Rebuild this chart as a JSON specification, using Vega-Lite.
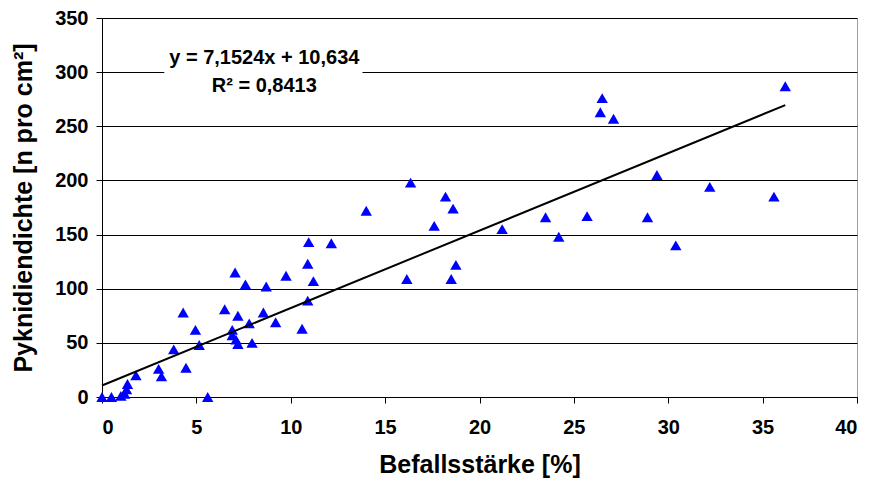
{
  "$schema": "https://vega.github.io/schema/vega-lite/v6.json",
  "width": 755,
  "height": 379,
  "autosize": {"type": "none"},
  "padding": {"left": 102, "top": 18, "right": 15, "bottom": 82},
  "background": "white",
  "config": {
    "view": {"stroke": "#a0a0a0", "strokeWidth": 1},
    "axis": {
      "domainColor": "black",
      "tickColor": "black",
      "gridColor": "black",
      "gridOpacity": 1,
      "gridWidth": 1,
      "tickSize": 6,
      "labelFont": "Liberation Sans",
      "labelFontWeight": "bold",
      "labelFontSize": 20,
      "labelColor": "black",
      "titleFont": "Liberation Sans",
      "titleFontWeight": "bold",
      "titleFontSize": 25,
      "titleColor": "black"
    }
  },
  "datasets": {
    "pts": [
      {"x": 0, "y": 0}, {"x": 0.5, "y": 0}, {"x": 1.0, "y": 1}, {"x": 1.2, "y": 3},
      {"x": 1.3, "y": 7}, {"x": 1.35, "y": 12}, {"x": 1.8, "y": 20}, {"x": 3.0, "y": 26},
      {"x": 3.15, "y": 19}, {"x": 3.8, "y": 44}, {"x": 4.45, "y": 27}, {"x": 4.3, "y": 78},
      {"x": 4.95, "y": 62}, {"x": 5.15, "y": 48}, {"x": 5.6, "y": 0}, {"x": 6.5, "y": 81},
      {"x": 7.2, "y": 75}, {"x": 6.9, "y": 62}, {"x": 6.9, "y": 57}, {"x": 7.1, "y": 53},
      {"x": 7.2, "y": 49}, {"x": 7.8, "y": 68}, {"x": 7.95, "y": 50}, {"x": 8.55, "y": 78},
      {"x": 9.2, "y": 69}, {"x": 10.6, "y": 63}, {"x": 10.9, "y": 89}, {"x": 7.05, "y": 115},
      {"x": 7.6, "y": 104}, {"x": 8.7, "y": 102}, {"x": 9.75, "y": 112}, {"x": 10.9, "y": 123},
      {"x": 10.95, "y": 143}, {"x": 12.15, "y": 142}, {"x": 11.2, "y": 107}, {"x": 14, "y": 172},
      {"x": 16.35, "y": 198}, {"x": 18.2, "y": 185}, {"x": 18.6, "y": 174}, {"x": 17.6, "y": 158},
      {"x": 21.2, "y": 155}, {"x": 23.5, "y": 166}, {"x": 25.7, "y": 167}, {"x": 24.2, "y": 148},
      {"x": 18.75, "y": 122}, {"x": 16.15, "y": 109}, {"x": 18.5, "y": 109}, {"x": 26.5, "y": 276},
      {"x": 26.4, "y": 263}, {"x": 27.1, "y": 257}, {"x": 36.2, "y": 287}, {"x": 29.4, "y": 205},
      {"x": 32.2, "y": 194}, {"x": 35.6, "y": 185}, {"x": 28.9, "y": 166}, {"x": 30.4, "y": 140}
    ],
    "fit": [{"x": 0, "y": 10.634}, {"x": 36.2, "y": 269.55}],
    "box": [{"x1": 3.3, "x2": 13.8, "y1": 275, "y2": 325}],
    "labels": [
      {"tx": 8.6, "ty": 313, "label": "y = 7,1524x + 10,634"},
      {"tx": 8.6, "ty": 287, "label": "R² = 0,8413"}
    ]
  },
  "layer": [
    {
      "data": {"name": "box"},
      "mark": {"type": "rect", "fill": "white"},
      "encoding": {
        "x": {"field": "x1", "type": "quantitative", "scale": {"domain": [0, 40], "nice": false},
              "axis": {"values": [0,5,10,15,20,25,30,35,40], "grid": false, "title": "Befallsstärke [%]", "labelPadding": 14, "titlePadding": 15}},
        "x2": {"field": "x2"},
        "y": {"field": "y1", "type": "quantitative", "scale": {"domain": [0, 350], "nice": false},
              "axis": {"values": [0,50,100,150,200,250,300,350], "grid": true, "title": "Pyknidiendichte [n pro cm²]", "labelPadding": 8, "titlePadding": 18}},
        "y2": {"field": "y2"}
      }
    },
    {
      "data": {"name": "pts"},
      "mark": {"type": "point", "shape": "triangle-up", "filled": true, "color": "#0000ff", "opacity": 1, "size": 130, "clip": false},
      "encoding": {
        "x": {"field": "x", "type": "quantitative"},
        "y": {"field": "y", "type": "quantitative"}
      }
    },
    {
      "data": {"name": "fit"},
      "mark": {"type": "line", "color": "black", "strokeWidth": 2},
      "encoding": {
        "x": {"field": "x", "type": "quantitative"},
        "y": {"field": "y", "type": "quantitative"}
      }
    },
    {
      "data": {"name": "labels"},
      "mark": {"type": "text", "font": "Liberation Sans", "fontWeight": "bold", "fontSize": 20, "color": "black", "align": "center", "baseline": "middle"},
      "encoding": {
        "x": {"field": "tx", "type": "quantitative"},
        "y": {"field": "ty", "type": "quantitative"},
        "text": {"field": "label"}
      }
    }
  ]
}
